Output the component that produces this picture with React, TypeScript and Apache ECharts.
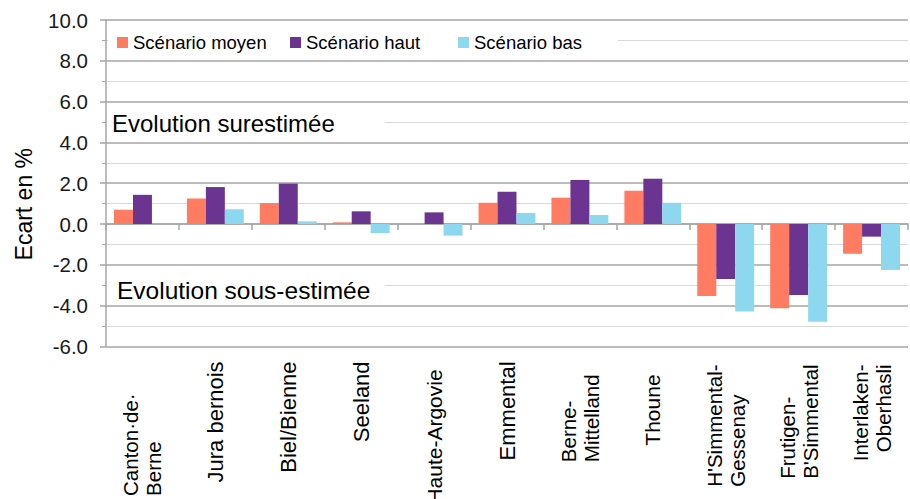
import React, { useEffect, useRef } from 'react';
import * as echarts from 'echarts';

const FONT = '"Liberation Sans", Arial, Helvetica, sans-serif';

const categories = [
  'Canton·de·\nBerne',
  'Jura bernois',
  'Biel/Bienne',
  'Seeland',
  'Haute-Argovie',
  'Emmental',
  'Berne-\nMittelland',
  'Thoune',
  "H'Simmental-\nGessenay",
  "Frutigen-\nB'Simmental",
  'Interlaken-\nOberhasli',
];

const seriesNames = ['Scénario moyen', 'Scénario haut', 'Scénario bas'];

const moyen = [0.7, 1.25, 1.03, 0.08, 0.0, 1.04, 1.29, 1.63, -3.53, -4.13, -1.46];
const haut = [1.43, 1.81, 1.98, 0.62, 0.57, 1.58, 2.16, 2.22, -2.7, -3.48, -0.62];
const bas = [0.0, 0.72, 0.13, -0.44, -0.57, 0.54, 0.44, 1.04, -4.29, -4.79, -2.25];

const colors = ['#FF7B61', '#6A3490', '#8DD7EF'];

// label layout hints (text alignment of lines / shift from the axis)
const labelLeftAligned = [true, false, false, false, false, false, true, false, true, true, false];
const labelShift = [32, 0, 0, 0, 8, 0, 13, 13, 3, 3, 3];
const labelSize = [19, 22, 22, 22, 21, 22, 20, 21, 20.5, 20.5, 20.5];
const legendLeft = [117, 290, 458];

export default function App() {
  const ref = useRef<HTMLDivElement>(null);

  useEffect(() => {
    if (!ref.current) return;
    const chart = echarts.init(ref.current, undefined, { renderer: 'svg' });

    const gridColor = '#A6A6A6';
    const labelItems = categories.map((c, i) => ({
      value: c,
      textStyle: { padding: [0, labelShift[i], 0, 0], fontSize: labelSize[i] },
    }));

    const richBase = { fontSize: 20.5, lineHeight: 23, fontFamily: FONT, color: '#000' };

    chart.setOption({
      animation: false,
      textStyle: { fontFamily: FONT },
      grid: {
        left: 106,
        right: 2,
        top: 20,
        bottom: 152.6,
        containLabel: false,
        outerBoundsMode: 'none',
      },
      legend: seriesNames.map((n, i) => ({
        data: [n],
        left: legendLeft[i],
        top: 33,
        padding: 0,
        icon: 'rect',
        itemWidth: 11,
        itemHeight: 11,
        z: 5,
        textStyle: { fontSize: 18.5, color: '#000', fontFamily: FONT },
      })),
      xAxis: [
        {
          type: 'category',
          data: categories,
          axisLine: { onZero: true, lineStyle: { color: gridColor, width: 1.5 } },
          axisTick: { show: true, length: 6, interval: 0, lineStyle: { color: gridColor, width: 1.5 } },
          axisLabel: { show: false },
          splitLine: { show: false },
        },
        {
          type: 'category',
          data: labelItems,
          position: 'bottom',
          axisLine: { show: false, onZero: false },
          axisTick: { show: false },
          splitLine: { show: false },
          axisLabel: {
            interval: 0,
            rotate: 90,
            margin: 15,
            fontSize: 20.5,
            lineHeight: 23,
            color: '#000',
            fontFamily: FONT,
            formatter: (value: string, index: number) => {
              if (!labelLeftAligned[index]) return value;
              return value
                .split('\n')
                .map((l) => `{l|${l}}`)
                .join('\n');
            },
            rich: {
              l: { ...richBase, align: 'left' },
            },
          },
        },
      ],
      yAxis: {
        type: 'value',
        min: -6,
        max: 10,
        interval: 2,
        name: 'Ecart en %',
        nameLocation: 'middle',
        nameGap: 71,
        nameTextStyle: { fontSize: 23, color: '#000', fontFamily: FONT, padding: [0, 42, 0, 0] },
        axisLine: { show: true, lineStyle: { color: gridColor, width: 1.5 } },
        axisTick: { show: true, length: 6, lineStyle: { color: gridColor, width: 1.5 } },
        minorTick: { show: true, splitNumber: 2, length: 4, lineStyle: { color: gridColor, width: 1 } },
        splitLine: { show: true, lineStyle: { color: gridColor, width: 1.5 } },
        minorSplitLine: { show: true, lineStyle: { color: '#D9D9D9', width: 1.2 } },
        axisLabel: {
          fontSize: 20.5,
          color: '#1a1a1a',
          margin: 18,
          formatter: (v: number) => v.toFixed(1),
        },
      },
      graphic: [
        { type: 'rect', x: 108, y: 31, shape: { width: 510, height: 24 }, style: { fill: '#fff' }, z: 2 },
        { type: 'rect', x: 107, y: 110, shape: { width: 278, height: 26 }, style: { fill: '#fff' }, z: 50 },
        {
          type: 'text',
          x: 112,
          y: 123,
          z: 51,
          style: { text: 'Evolution surestimée', fontSize: 24, fontFamily: FONT, fill: '#000', verticalAlign: 'middle' },
        },
        { type: 'rect', x: 107, y: 277, shape: { width: 278, height: 26 }, style: { fill: '#fff' }, z: 50 },
        {
          type: 'text',
          x: 117,
          y: 290,
          z: 51,
          style: {
            text: 'Evolution sous-estimée',
            fontSize: 24.5,
            fontFamily: FONT,
            fill: '#000',
            verticalAlign: 'middle',
          },
        },
      ],
      series: [
        { name: seriesNames[0], type: 'bar', data: moyen, itemStyle: { color: colors[0] }, barGap: '0%', barCategoryGap: '22%' },
        { name: seriesNames[1], type: 'bar', data: haut, itemStyle: { color: colors[1] }, barGap: '0%', barCategoryGap: '22%' },
        { name: seriesNames[2], type: 'bar', data: bas, itemStyle: { color: colors[2] }, barGap: '0%', barCategoryGap: '22%' },
      ],
    });

    return () => chart.dispose();
  }, []);

  return (
    <div
      ref={ref}
      style={{ position: 'absolute', left: 0, top: 0, width: 910, height: 499 }}
    />
  );
}
